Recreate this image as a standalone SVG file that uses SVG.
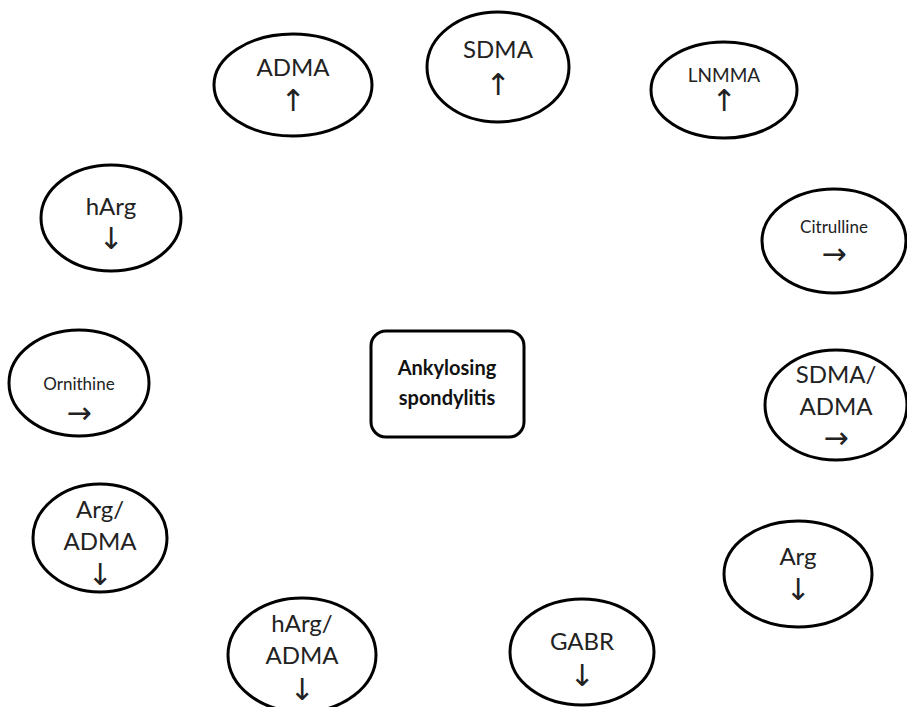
<svg xmlns="http://www.w3.org/2000/svg" width="907" height="707" viewBox="0 0 907 707">
<style>
.e{fill:#fff;stroke:#000;stroke-width:3}
.t{font-family:Lato,"Liberation Sans",sans-serif;font-size:24px;fill:#222;text-anchor:middle}
.s{font-size:17px}
.m{font-size:19px}
.a{font-family:"DejaVu Sans","Liberation Sans",sans-serif;font-size:30px;fill:#222;text-anchor:middle}
.b{font-family:Lato,"Liberation Sans",sans-serif;font-size:20px;font-weight:bold;fill:#111;text-anchor:middle}
</style>
<rect width="907" height="707" fill="#fff"/>
<g id="connectors"></g>
<g id="center"><rect x="371" y="331" width="153" height="106" rx="15" fill="#fff" stroke="#000" stroke-width="3"/><text class="b" x="447" y="375">Ankylosing</text><text class="b" x="447" y="405">spondylitis</text></g>
<g id="adma"><ellipse class="e" cx="293" cy="85" rx="79" ry="51"/><text class="t" x="293" y="76">ADMA</text><text class="a" x="293" y="111">↑&#xFE0E;</text></g>
<g id="sdma"><ellipse class="e" cx="498" cy="67" rx="71" ry="55"/><text class="t" x="498" y="58">SDMA</text><text class="a" x="498" y="95">↑&#xFE0E;</text></g>
<g id="lnmma"><ellipse class="e" cx="724" cy="90" rx="73" ry="48"/><text class="t m" x="724" y="82">LNMMA</text><text class="a" x="724" y="111">↑&#xFE0E;</text></g>
<g id="harg"><ellipse class="e" cx="111" cy="218" rx="70" ry="53"/><text class="t" x="111" y="215">hArg</text><text class="a" x="111" y="249">↓&#xFE0E;</text></g>
<g id="citrulline"><ellipse class="e" cx="834" cy="241" rx="72" ry="52"/><text class="t s" x="834" y="233">Citrulline</text><text class="a" x="834" y="264">→&#xFE0E;</text></g>
<g id="ornithine"><ellipse class="e" cx="79" cy="383" rx="70" ry="53"/><text class="t s" x="79" y="390">Ornithine</text><text class="a" x="79" y="423">→&#xFE0E;</text></g>
<g id="sdma-adma"><ellipse class="e" cx="836" cy="405" rx="71" ry="55"/><text class="t" x="836" y="383">SDMA/</text><text class="t" x="836" y="415">ADMA</text><text class="a" x="836" y="448">→&#xFE0E;</text></g>
<g id="arg-adma"><ellipse class="e" cx="100" cy="538" rx="67" ry="54"/><text class="t" x="100" y="518">Arg/</text><text class="t" x="100" y="550">ADMA</text><text class="a" x="100" y="585">↓&#xFE0E;</text></g>
<g id="arg"><ellipse class="e" cx="798" cy="574" rx="74" ry="53"/><text class="t" x="798" y="565">Arg</text><text class="a" x="798" y="600">↓&#xFE0E;</text></g>
<g id="harg-adma"><ellipse class="e" cx="302" cy="655" rx="74" ry="57"/><text class="t" x="302" y="632">hArg/</text><text class="t" x="302" y="664">ADMA</text><text class="a" x="302" y="700">↓&#xFE0E;</text></g>
<g id="gabr"><ellipse class="e" cx="582" cy="652" rx="72" ry="53"/><text class="t" x="582" y="650">GABR</text><text class="a" x="582" y="686">↓&#xFE0E;</text></g>
</svg>
